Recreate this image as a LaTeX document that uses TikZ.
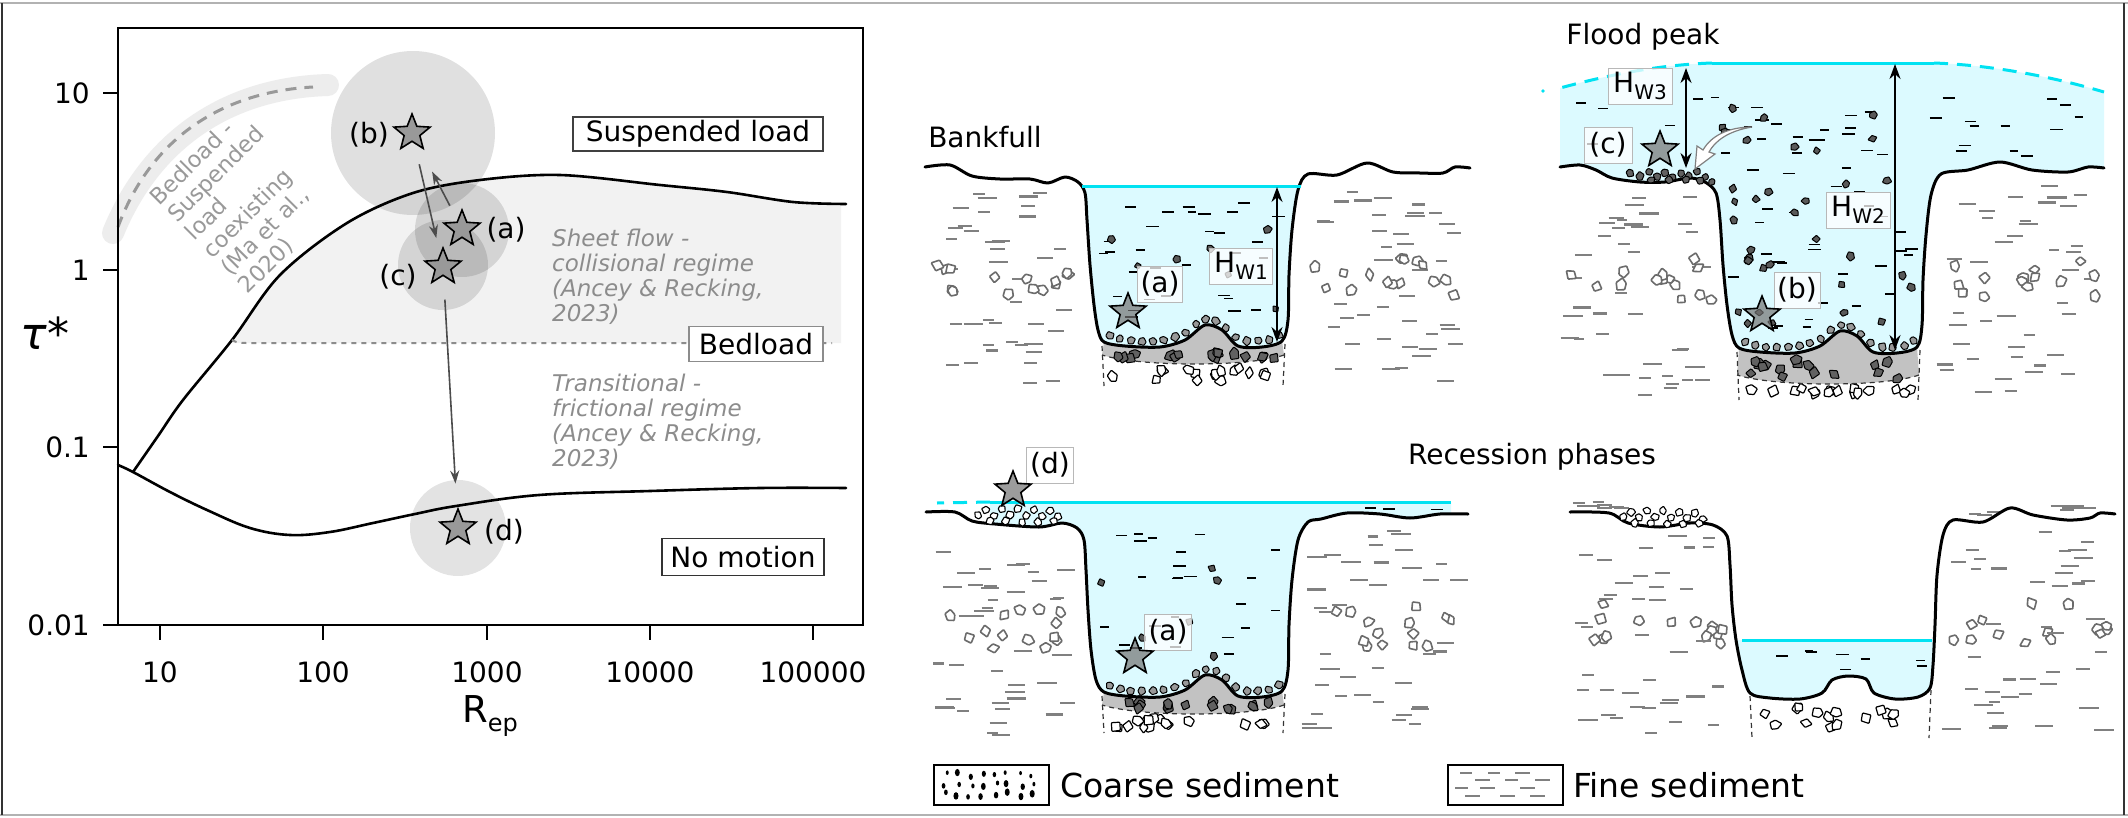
\documentclass[tikz,border=0pt]{standalone}
\usepackage{fontspec}
\setmainfont{DejaVu Sans}
\usetikzlibrary{shapes.geometric,arrows.meta}
\definecolor{wat}{HTML}{DCFAFF}
\definecolor{surf}{HTML}{00E2F2}
\newcommand{\fdashes}[6]{%
  \pgfmathsetseed{#6}%
  \foreach \i in {1,...,#5}{%
    \pgfmathsetmacro{\px}{(#1)+rnd*((#2)-(#1))}%
    \pgfmathsetmacro{\py}{(#3)+rnd*((#4)-(#3))}%
    \pgfmathsetmacro{\pl}{5+rnd*5}%
    \draw[fdash] (\px-\pl,\py) -- (\px+\pl,\py);%
  }}
\newcommand{\wdashes}[6]{%
  \pgfmathsetseed{#6}%
  \foreach \i in {1,...,#5}{%
    \pgfmathsetmacro{\px}{(#1)+rnd*((#2)-(#1))}%
    \pgfmathsetmacro{\py}{(#3)+rnd*((#4)-(#3))}%
    \pgfmathsetmacro{\pl}{4+rnd*2.5}%
    \draw[wdash] (\px-\pl,\py) -- (\px+\pl,\py);%
  }}
% angular pebbles (4 or 5 corners)
\newcommand{\pebs}[7]{%
  \pgfmathsetseed{#6}%
  \foreach \i in {1,...,#5}{%
    \pgfmathsetmacro{\px}{(#1)+rnd*((#2)-(#1))}%
    \pgfmathsetmacro{\py}{(#3)+rnd*((#4)-(#3))}%
    \pgfmathsetmacro{\pa}{rnd*360}%
    \pgfmathtruncatemacro{\pk}{mod(\i,2)}%
    \ifnum\pk=0
    \draw[shift={(\px,\py)},rotate=\pa,#7] (0:{4.5+2.5*rnd}) -- (90:{4+2.5*rnd}) -- (180:{4.5+2.5*rnd}) -- (270:{4+2.5*rnd}) -- cycle;%
    \else
    \draw[shift={(\px,\py)},rotate=\pa,#7] (0:{4.5+2.5*rnd}) -- (75:{4+2*rnd}) -- (150:{5+2*rnd}) -- (215:{4+2*rnd}) -- (290:{5+2*rnd}) -- cycle;%
    \fi
  }}
\newcommand{\pebrow}[2]{%
  \foreach \q in {#1}{%
    \pgfmathsetmacro{\pa}{rnd*360}%
    \draw[shift={\q},rotate=\pa,#2] (0:{4+2*rnd}) -- (80:{4+2*rnd}) -- (160:{4+2*rnd}) -- (240:{4+2*rnd}) -- (300:{4+2*rnd}) -- cycle;}}
% bed layer in bankfull-local coordinates: #1 gray bottom, #2 white bottom, #3 #4 seeds
\newcommand{\bedstuff}[4]{%
  \pebs{1110}{1278}{#1+5}{#2-5}{16}{#3}{pebb}%
  \fill[black!24] plot[smooth,tension=.5] coordinates {(1104,342) (1125,346) (1160,347) (1185,340) (1205,325) (1222,330) (1238,346) (1262,347) (1282,341)} -- (1284,#1-8) .. controls (1250,#1+4) and (1140,#1+4) .. (1102,#1-8) -- cycle;%
  \draw[bdash] (1284,#1-8) .. controls (1250,#1+4) and (1140,#1+4) .. (1102,#1-8);%
  \draw[bdash] (1102,346) -- (1104,#2);%
  \draw[bdash] (1285,344) -- (1283,#2);%
  \pebs{1112}{1276}{352}{#1-4}{16}{#4}{pebl}%
  \pebrow{(1110,336),(1120,339),(1131,341),(1142,341),(1153,341),(1164,340),(1175,337),(1186,333),(1196,324),(1206,319),(1216,321),(1226,328),(1236,337),(1247,341),(1258,341),(1269,340),(1279,335)}{pebg}%
}
\begin{document}
\begin{tikzpicture}[x=1pt,y=-1pt,
 every node/.style={font=\fontsize{28}{33}\selectfont, inner sep=0pt},
 ax/.style={line width=2.2, black},
 curve/.style={line width=2.6, black, line cap=round, line join=round},
 fdash/.style={draw=black!50, line width=2.1},
 wdash/.style={draw=black, line width=1.7},
 pebw/.style={draw=black!58, fill=white, line width=1.6, rounded corners=0.8pt},
 pebd/.style={draw=black, fill=black!65, line width=1, rounded corners=0.6pt, scale=.75},
 pebg/.style={draw=black, fill=black!40, line width=1, rounded corners=0.8pt, scale=.85},
 pebl/.style={draw=black, fill=black!62, line width=1, rounded corners=0.8pt},
 pebb/.style={draw=black, fill=white, line width=1.2, rounded corners=0.8pt},
 pebs/.style={draw=black, fill=white, line width=1.1, rounded corners=0.6pt, scale=.8},
 bdash/.style={draw=black!80, line width=1.2, dash pattern=on 5pt off 4pt},
 outl/.style={line width=3, black, line join=round, line cap=round},
 surfl/.style={draw=surf, line width=3},
 harr/.style={line width=2, black, {Stealth[length=15pt,width=11pt]}-{Stealth[length=15pt,width=11pt]}},
 parr/.style={line width=1.6, black!70, -{Stealth[length=13pt,width=9pt]}},
 lstar/.style={star, star points=5, star point ratio=2.3, minimum size=38, inner sep=0pt, draw=black, line width=1.6, fill=black!40},
 rstar/.style={star, star points=5, star point ratio=2.3, minimum size=38, inner sep=0pt, draw=black, line width=1.6, fill=black!55, fill opacity=.7},
 rbox/.style={draw=black!28, line width=1, fill=white, fill opacity=.75, text opacity=1, inner sep=3pt, minimum height=36},
 regime/.style={black!45, font=\fontsize{23}{25}\selectfont\itshape, align=left, inner sep=0pt},
]
\useasboundingbox (0,0) rectangle (2128,817);
\fill[white] (0,0) rectangle (2128,817);
% outer border
\draw[black!30, line width=2] (0,3) -- (2128,3);
\draw[black!30, line width=2] (0,815) -- (2128,815);
\draw[black!80, line width=2] (1.5,3) -- (1.5,815);
\draw[black!80, line width=2] (2124,3) -- (2124,815);

% ================= LEFT PLOT =================
\fill[black!5] plot[smooth,tension=.55] coordinates {(232,341) (280,275) (347,223) (413,193) (480,180) (560,175) (660,185) (727,192) (793,202) (841,204)} -- (841,343) -- (232,343) -- cycle;
\draw[black!7, line width=22, line cap=round] (113,233) .. controls (150,142) and (225,88) .. (328,85);
\draw[black!40, line width=3, dash pattern=on 11pt off 8pt] (118,227) .. controls (150,140) and (220,92) .. (313,87);
\fill[black, fill opacity=.12] (413,133) circle (82pt);
\fill[black, fill opacity=.12] (462,230) circle (47pt);
\fill[black, fill opacity=.12] (443,265) circle (45pt);
\fill[black, fill opacity=.11] (458,528) circle (48pt);
\draw[curve] plot[smooth,tension=.55] coordinates {(133,472) (158,436) (183,400) (232,340) (280,275) (347,223) (413,193) (480,180) (560,175) (660,185) (727,192) (793,202) (846,204)};
\draw[curve] plot[smooth,tension=.6] coordinates {(118,465) (133,472) (170,492) (207,510) (250,528) (290,535) (330,532) (373,523) (415,514) (456,506) (539,495) (650,491) (760,488) (846,488)};
\draw[black!45, line width=2, dash pattern=on 5pt off 5pt] (232,340) .. controls (238,343) .. (250,343) -- (832,343);
\draw[ax] (118,28) rectangle (863,625);
\foreach \y/\l in {93/10,270/1,447/0.1,625/0.01}{\draw[ax] (103,\y) -- (118,\y); \node[anchor=east] at (90,\y) {\l};}
\foreach \x/\l in {160/10,323/100,487/1000,650/10000,813/100000}{\draw[ax] (\x,625) -- (\x,640); \node at (\x,672) {\l};}
\node (rep) [font=\fontsize{37}{40}\selectfont] at (490,716) {R\raisebox{-9pt}{\fontsize{24}{24}\selectfont ep}};
\node (tau) [font=\fontsize{44}{48}\selectfont\itshape] at (45,333) {τ*};
\node (coex) [black!40, rotate=45, align=left, font=\fontsize{22.5}{25}\selectfont] at (243,201) {Bedload -\\Suspended\\load\\coexisting\\(Ma et al.,\\2020)};
\node (sheet) [regime, anchor=north west] at (552,229) {Sheet flow -\\collisional regime\\(Ancey \& Recking,\\2023)};
\node (trans) [regime, anchor=north west] at (552,374) {Transitional -\\frictional regime\\(Ancey \& Recking,\\2023)};
\node (susp) [draw=black!75, line width=1.2, fill=white, minimum width=250, minimum height=34] at (698,134) {Suspended load};
\node (bedl) [draw=black!45, line width=1.2, fill=white, minimum width=134, minimum height=35] at (756,344) {Bedload};
\node (nomo) [draw=black!80, line width=1.2, fill=white, minimum width=162, minimum height=37] at (743,557) {No motion};
\node[lstar] (sb) at (412,133) {};
\node[lstar] (sa) at (462,229) {};
\node[lstar] (sc) at (443,267) {};
\node[lstar] (sd) at (458,528) {};
\draw[parr, shorten <=21pt, shorten >=16pt] (sb) -- (sc);
\draw[parr, shorten <=16pt, shorten >=28pt] (sa) -- (sb);
\draw[parr, shorten <=23pt, shorten >=26pt] (sc) -- (sd);
\node (lb) at (369,135) {(b)};
\node (la) at (506,230) {(a)};
\node (lc) at (398,277) {(c)};
\node (ld) at (504,532) {(d)};

% ================= RIGHT PANELS =================
\node (t1) at (985,137) {Bankfull};
\node (t2) at (1643,37) {Flood peak};
\node (t3) at (1532,457) {Recession phases};

% ---- bank textures
\fdashes{937}{1068}{190}{250}{16}{1}\fdashes{937}{1068}{302}{385}{20}{2}\fdashes{937}{1068}{255}{298}{4}{3}\pebs{935}{1072}{257}{298}{14}{4}{pebw}
\fdashes{1318}{1460}{188}{252}{17}{5}\fdashes{1315}{1460}{302}{385}{20}{6}\fdashes{1315}{1460}{255}{298}{4}{7}\pebs{1303}{1462}{258}{300}{15}{8}{pebw}
\fdashes{1568}{1705}{192}{252}{15}{9}\fdashes{1568}{1708}{302}{395}{20}{10}\fdashes{1568}{1708}{255}{298}{4}{13}\pebs{1566}{1712}{257}{300}{14}{14}{pebw}
\fdashes{1950}{2097}{185}{252}{16}{15}\fdashes{1935}{2097}{302}{395}{20}{16}\fdashes{1935}{2097}{255}{298}{4}{17}\pebs{1936}{2100}{258}{300}{15}{18}{pebw}
\fdashes{935}{1070}{537}{600}{16}{19}\fdashes{935}{1072}{650}{735}{20}{20}\pebs{932}{1074}{603}{648}{14}{21}{pebw}\fdashes{935}{1072}{605}{645}{4}{22}
\fdashes{1315}{1460}{530}{600}{16}{23}\fdashes{1305}{1460}{650}{735}{20}{24}\pebs{1303}{1462}{603}{648}{14}{25}{pebw}\fdashes{1305}{1460}{605}{645}{4}{26}
\fdashes{1578}{1718}{535}{600}{16}{27}\fdashes{1578}{1722}{650}{735}{20}{28}\pebs{1576}{1724}{603}{648}{14}{29}{pebw}\fdashes{1578}{1720}{605}{645}{4}{30}
\fdashes{1958}{2108}{532}{600}{16}{31}\fdashes{1948}{2108}{650}{735}{20}{32}\pebs{1946}{2110}{603}{648}{14}{33}{pebw}\fdashes{1948}{2108}{605}{645}{4}{34}
% fine sediment deposits (panel 4)
\fdashes{1578}{1622}{502}{510}{8}{46}\fdashes{1962}{1995}{511}{517}{4}{47}\fdashes{2040}{2105}{505}{512}{8}{48}

% ---- water fills
\fill[wat] plot[smooth,tension=.5] coordinates {(1084,186) (1087,220) (1090,265) (1094,305) (1098,330) (1104,342) (1125,346) (1160,347) (1185,340) (1205,325) (1222,330) (1238,346) (1262,347) (1282,341) (1288,320) (1289,275) (1292,230) (1298,190) (1300,186)} -- cycle;
\fill[wat] plot[smooth,tension=.5] coordinates {(1560,167) (1580,165) (1596,170) (1612,178) (1640,182) (1665,182) (1690,178) (1705,182) (1716,193) (1720,220) (1723,265) (1727,305) (1732,335) (1739,348) (1760,352) (1795,353) (1820,346) (1840,331) (1857,336) (1873,352) (1897,353) (1917,347) (1922,325) (1923,280) (1926,235) (1931,195) (1941,174) (1968,170) (2000,162) (2032,170) (2068,172) (2088,167) (2104,168)} -- (2104,92) .. controls (2050,76) and (1990,65) .. (1934,63) -- (1712,63) .. controls (1655,65) and (1605,76) .. (1560,88) -- cycle;
\fill[wat] plot[smooth,tension=.5] coordinates {(990,523) (995,524) (1039,527) (1062,523) (1077,528) (1084,540) (1086,570) (1088,610) (1091,650) (1096,680) (1104,692) (1125,696) (1160,697) (1185,690) (1205,675) (1222,680) (1238,696) (1262,697) (1282,691) (1288,670) (1289,625) (1292,580) (1298,540) (1308,522) (1321,519) (1347,513) (1380,514) (1410,518) (1440,514) (1451,514)} -- (1451,502) -- (990,502) -- cycle;
\fill[wat] plot[smooth,tension=.5] coordinates {(1736,640) (1742,670) (1750,693) (1770,698) (1800,699) (1822,693) (1832,680) (1848,676) (1866,679) (1874,693) (1895,699) (1918,697) (1930,688) (1933,665) (1935,640)} -- cycle;

% ---- water textures
\wdashes{1100}{1280}{197}{318}{30}{35}\pebs{1100}{1280}{205}{318}{7}{36}{pebd}
\wdashes{1568}{2098}{96}{158}{40}{37}\wdashes{1730}{1915}{165}{328}{30}{38}\pebs{1700}{1915}{108}{160}{9}{39}{pebd}\pebs{1728}{1915}{162}{328}{26}{40}{pebd}
\wdashes{1098}{1282}{532}{668}{24}{42}\wdashes{1320}{1445}{507}{510}{3}{43}\pebs{1100}{1280}{545}{665}{6}{44}{pebd}
\wdashes{1752}{1925}{650}{670}{8}{45}

% ---- beds
\bedstuff{363}{386}{11}{12}
\begin{scope}[shift={(635,6)}]\bedstuff{377}{394}{51}{52}\end{scope}
\begin{scope}[shift={(0,350)}]\bedstuff{363}{383}{61}{62}\end{scope}
\pebs{1758}{1922}{705}{730}{15}{71}{pebb}
\draw[bdash] (1750,696) -- (1752,738);
\draw[bdash] (1931,690) -- (1929,738);

% ---- outlines
\draw[outl] plot[smooth,tension=.5] coordinates {(925,167) (950,165) (972,176) (1000,179) (1030,179) (1048,183) (1065,177) (1078,182) (1085,193) (1087,220) (1090,265) (1094,305) (1098,330) (1104,342) (1125,346) (1160,347) (1185,340) (1205,325) (1222,330) (1238,346) (1262,347) (1282,341) (1288,320) (1289,275) (1292,230) (1298,190) (1308,174) (1337,175) (1367,163) (1393,172) (1420,173) (1443,173) (1455,167) (1470,168)};
\draw[outl] plot[smooth,tension=.5] coordinates {(1560,167) (1580,165) (1596,170) (1612,178) (1640,182) (1665,182) (1690,178) (1705,182) (1716,193) (1720,220) (1723,265) (1727,305) (1732,335) (1739,348) (1760,352) (1795,353) (1820,346) (1840,331) (1857,336) (1873,352) (1897,353) (1917,347) (1922,325) (1923,280) (1926,235) (1931,195) (1941,174) (1968,170) (2000,162) (2032,170) (2068,172) (2088,167) (2104,168)};
\draw[outl] plot[smooth,tension=.5] coordinates {(926,512) (955,512) (972,521) (995,524) (1039,527) (1062,523) (1077,528) (1084,540) (1086,570) (1088,610) (1091,650) (1096,680) (1104,692) (1125,696) (1160,697) (1185,690) (1205,675) (1222,680) (1238,696) (1262,697) (1282,691) (1288,670) (1289,625) (1292,580) (1298,540) (1308,522) (1321,519) (1347,513) (1380,514) (1410,518) (1440,514) (1468,514)};
\draw[outl] plot[smooth,tension=.5] coordinates {(1570,512) (1609,513) (1628,523) (1660,527) (1690,523) (1713,525) (1727,536) (1730,565) (1732,605) (1736,640) (1742,670) (1750,693) (1770,698) (1800,699) (1822,693) (1832,680) (1848,676) (1866,679) (1874,693) (1895,699) (1918,697) (1930,688) (1933,665) (1935,625) (1937,575) (1943,535) (1953,520) (1983,522) (2010,508) (2033,515) (2067,520) (2090,518) (2100,513) (2115,514)};

% ---- piles on banks
\pebrow{(1630,173),(1640,176),(1649,172),(1657,177),(1665,173),(1673,177),(1681,173),(1689,176),(1697,172),(1705,177),(1712,182),(1651,180),(1669,180),(1686,180),(1700,181)}{pebl,scale=.8}
\pebrow{(978,515),(986,510),(994,516),(1002,509),(1010,515),(1018,509),(1026,516),(1034,510),(1042,516),(1050,511),(1058,517),(990,521),(1006,521),(1022,522),(1038,522),(1054,521)}{pebs}
\begin{scope}[shift={(645,2)}]
\pebrow{(978,515),(986,510),(994,516),(1002,509),(1010,515),(1018,509),(1026,516),(1034,510),(1042,516),(1050,511),(1058,517),(990,521),(1006,521),(1022,522),(1038,522),(1054,521)}{pebs}
\end{scope}
% white curved arrow (flood peak)
\filldraw[fill=white, draw=black!50, line width=1.2] (1752,127) .. controls (1728,131) and (1715,141) .. (1709,152) -- (1715,154) -- (1695,169) -- (1697,146) -- (1703,150) .. controls (1711,136) and (1728,127) .. (1752,127) -- cycle;

% ---- water surfaces
\draw[surfl] (1082,186) -- (1301,186);
\draw[surfl] (1712,63) -- (1934,63);
\draw[surfl, dash pattern=on 14pt off 9pt] (1712,63) .. controls (1655,65) and (1605,76) .. (1560,88);
\draw[surfl, dash pattern=on 14pt off 9pt] (1934,63) .. controls (1990,65) and (2050,76) .. (2104,92);
\fill[surf] (1543,91) circle (1.8pt);
\draw[surfl] (990,502) -- (1451,502);
\draw[surfl, dash pattern=on 14pt off 9pt] (990,502) -- (937,503);
\draw[surfl] (1742,640) -- (1932,640);

% ---- depth arrows
\coordinate (h1t) at (1277,187); \coordinate (h1b) at (1277,342);
\draw[harr] (h1t) -- (h1b);
\coordinate (h3t) at (1686,68); \coordinate (h3b) at (1686,168);
\draw[harr] (h3t) -- (h3b);
\coordinate (h2t) at (1895,64); \coordinate (h2b) at (1895,350);
\draw[harr] (h2t) -- (h2b);

% ---- labels and stars
\node[rbox, minimum width=63] (hw1) at (1241,266) {H\raisebox{-7pt}{\fontsize{20}{20}\selectfont W1}};
\node[rbox, minimum width=64] (hw3) at (1640,86) {H\raisebox{-7pt}{\fontsize{20}{20}\selectfont W3}};
\node[rbox, minimum width=64] (hw2) at (1858,210) {H\raisebox{-7pt}{\fontsize{20}{20}\selectfont W2}};
\node[rbox, minimum width=45] (ra1) at (1160,284) {(a)};
\node[rstar] (sa1) at (1128,312) {};
\node[rbox, minimum width=48] (rc) at (1608,145) {(c)};
\node[rstar] (sc2) at (1660,150) {};
\node[rbox, minimum width=46] (rb) at (1797,290) {(b)};
\node[rstar] (sb2) at (1762,315) {};
\node[rbox, minimum width=47] (rd) at (1050,465) {(d)};
\node[rstar] (sd3) at (1013,490) {};
\node[rbox, minimum width=47] (ra3) at (1168,632) {(a)};
\node[rstar] (sa3) at (1135,657) {};

% ---- legend
\node[draw=black, line width=1.5, minimum width=115, minimum height=40] (coarse) at (991.5,785) {};
\pgfmathsetseed{7}
\foreach \i in {0,...,23}{\pgfmathsetmacro{\px}{942+mod(\i,8)*12.5+rnd*6}\pgfmathsetmacro{\py}{772+floor(\i/8)*10+rnd*5}\pgfmathsetmacro{\pr}{1.3+rnd*1.3}\pgfmathsetmacro{\pq}{1.5*\pr}\fill[black] (\px,\py) ellipse [x radius=\pr pt, y radius=\pq pt];}
\node[anchor=west, font=\fontsize{33}{36}\selectfont] (coarsel) at (1060,785) {Coarse sediment};
\node[draw=black, line width=1.5, minimum width=115, minimum height=40] (fine) at (1505.5,785) {};
\foreach \a/\b/\y in {1460/1472/773,1488/1500/773,1515/1530/773,1475/1490/780,1505/1518/780,1535/1550/780,1455/1468/788,1480/1495/788,1520/1535/788,1465/1480/796,1500/1515/796,1530/1545/796}{\draw[fdash, line width=1.5] (\a,\y) -- (\b,\y);}
\node[anchor=west, font=\fontsize{33}{36}\selectfont] (finel) at (1573,785) {Fine sediment};
\end{tikzpicture}
\end{document}
